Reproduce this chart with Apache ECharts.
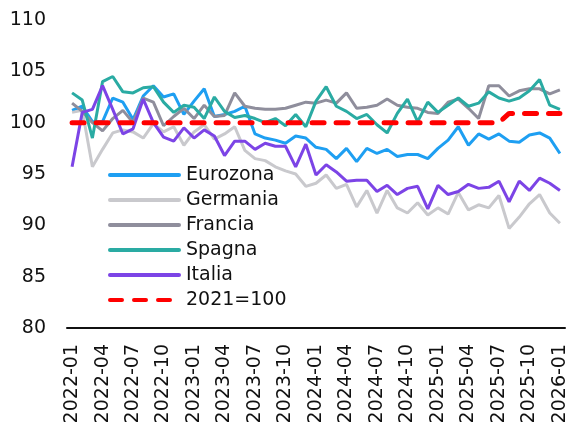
<!DOCTYPE html>
<html>
<head>
<meta charset="utf-8">
<script src="https://cdn.jsdelivr.net/npm/echarts@6/dist/echarts.min.js"></script>
<style>
    html, body { margin: 0; padding: 0; background: #fff; }
    #chart { width: 570px; height: 430px; }
</style>
</head>
<body>
<div id="chart"></div>
<script>
const months = [];
for (let y = 2022; y <= 2026; y++) {
    for (let m = 1; m <= 12; m++) {
        if (y === 2026 && m > 1) break;
        months.push(y + '-' + String(m).padStart(2, '0'));
    }
}

const eurozona = [101.2, 101.6, 100.1, 100.1, 102.4, 102.0, 100.3, 102.6, 103.6, 102.5, 102.8, 100.8,
    102.1, 103.3, 100.6, 100.8, 101.1, 101.6, 98.9, 98.5, 98.3, 98.0, 98.7, 98.5,
    97.6, 97.4, 96.5, 97.5, 96.2, 97.5, 97.0, 97.4, 96.7, 96.9, 96.9, 96.5,
    97.5, 98.3, 99.6, 97.8, 98.9, 98.4, 98.9, 98.2, 98.1, 98.8, 99.0, 98.5,
    97.0];
const germania = [101.0, 101.2, 95.7, 97.4, 99.0, 99.3, 99.1, 98.5, 99.9, 99.1, 99.6, 97.8,
    99.1, 99.8, 98.4, 98.9, 99.6, 97.3, 96.5, 96.3, 95.7, 95.3, 95.0, 93.8,
    94.1, 94.9, 93.6, 94.0, 91.8, 93.4, 91.2, 93.4, 91.7, 91.2, 92.2, 91.0,
    91.7, 91.1, 93.2, 91.5, 92.0, 91.7, 92.9, 89.7, 90.8, 92.1, 93.0, 91.2,
    90.2];
const francia = [101.9, 101.1, 100.0, 99.2, 100.4, 101.2, 100.0, 102.4, 102.0, 99.7, 100.6, 101.4,
    100.4, 101.7, 100.6, 100.7, 102.9, 101.6, 101.4, 101.3, 101.3, 101.4, 101.7, 102.0,
    101.9, 102.2, 101.9, 102.9, 101.4, 101.5, 101.7, 102.3, 101.7, 101.5, 101.4, 101.0,
    100.9, 102.0, 102.3, 101.4, 100.4, 103.6, 103.6, 102.6, 103.1, 103.3, 103.3, 102.8,
    103.2];
const spagna = [102.9, 102.2, 98.5, 104.0, 104.5, 103.0, 102.9, 103.4, 103.5, 102.0, 101.0, 101.7,
    101.5, 100.4, 102.5, 101.1, 100.5, 100.7, 100.4, 100.0, 100.4, 99.7, 100.8, 99.6,
    102.1, 103.5, 101.6, 101.1, 100.4, 100.8, 99.8, 99.0, 100.9, 102.3, 100.1, 102.0,
    101.0, 101.7, 102.4, 101.6, 101.9, 103.0, 102.4, 102.1, 102.4, 103.1, 104.2, 101.7,
    101.3];
const italia = [95.7, 101.0, 101.3, 103.6, 101.3, 98.9, 99.4, 102.3, 100.0, 98.6, 98.2, 99.5,
    98.5, 99.3, 98.7, 96.8, 98.2, 98.2, 97.4, 98.0, 97.7, 97.7, 95.7, 97.9,
    94.9, 95.9, 95.2, 94.3, 94.4, 94.4, 93.3, 93.9, 93.0, 93.6, 93.8, 91.6,
    93.9, 93.0, 93.3, 94.0, 93.6, 93.7, 94.3, 92.3, 94.3, 93.4, 94.6, 94.1,
    93.4];
const base2021 = [100, 100, 100, 100, 100, 100, 100, 100, 100, 100, 100, 100,
    100, 100, 100, 100, 100, 100, 100, 100, 100, 100, 100, 100,
    100, 100, 100, 100, 100, 100, 100, 100, 100, 100, 100, 100,
    100, 100, 100, 100, 100, 100, 100, 100.9, 100.9, 100.9, 100.9, 100.9,
    100.9];

const font = 'DejaVu Sans';
const chart = echarts.init(document.getElementById('chart'));

function line(name, data, color, extra) {
    return Object.assign({
        name: name,
        type: 'line',
        data: data,
        symbol: 'none',
        animation: false,
        lineStyle: { color: color, width: 3 },
        itemStyle: { color: color }
    }, extra || {});
}

chart.setOption({
    animation: false,
    grid: { left: 67, right: 5, top: 20, bottom: 102 },
    legend: {
        orient: 'vertical',
        left: 108,
        top: 165,
        padding: 0,
        itemWidth: 69,
        itemHeight: 20,
        itemGap: 5,
        itemStyle: { opacity: 0 },
        lineStyle: { width: 4, cap: 'round' },
        textStyle: { fontFamily: font, fontSize: 19, color: '#111', lineHeight: 20, padding: [0, 0, 0, 2] },
        data: ['Eurozona', 'Germania', 'Francia', 'Spagna', 'Italia', '2021=100']
    },
    xAxis: {
        type: 'category',
        data: months,
        boundaryGap: true,
        axisLine: { lineStyle: { color: '#111', width: 2 } },
        axisTick: { show: false },
        axisLabel: {
            interval: 2,
            rotate: 90,
            margin: 16,
            fontFamily: font,
            fontSize: 19,
            color: '#111'
        }
    },
    yAxis: {
        type: 'value',
        min: 80,
        max: 110,
        interval: 5,
        axisLine: { show: false },
        axisTick: { show: false },
        splitLine: { show: false },
        axisLabel: { margin: 21, fontFamily: font, fontSize: 19, color: '#111' }
    },
    series: [
        line('Eurozona', eurozona, '#1e9ff2'),
        line('Germania', germania, '#c9c9cd'),
        line('Francia', francia, '#8f8e9c'),
        line('Spagna', spagna, '#2aaba3'),
        line('Italia', italia, '#7c44e6'),
        line('2021=100', base2021, '#ff0000', {
            z: 3,
            lineStyle: { color: '#ff0000', width: 5, type: [12, 12], cap: 'round' }
        })
    ]
});
</script>
</body>
</html>
